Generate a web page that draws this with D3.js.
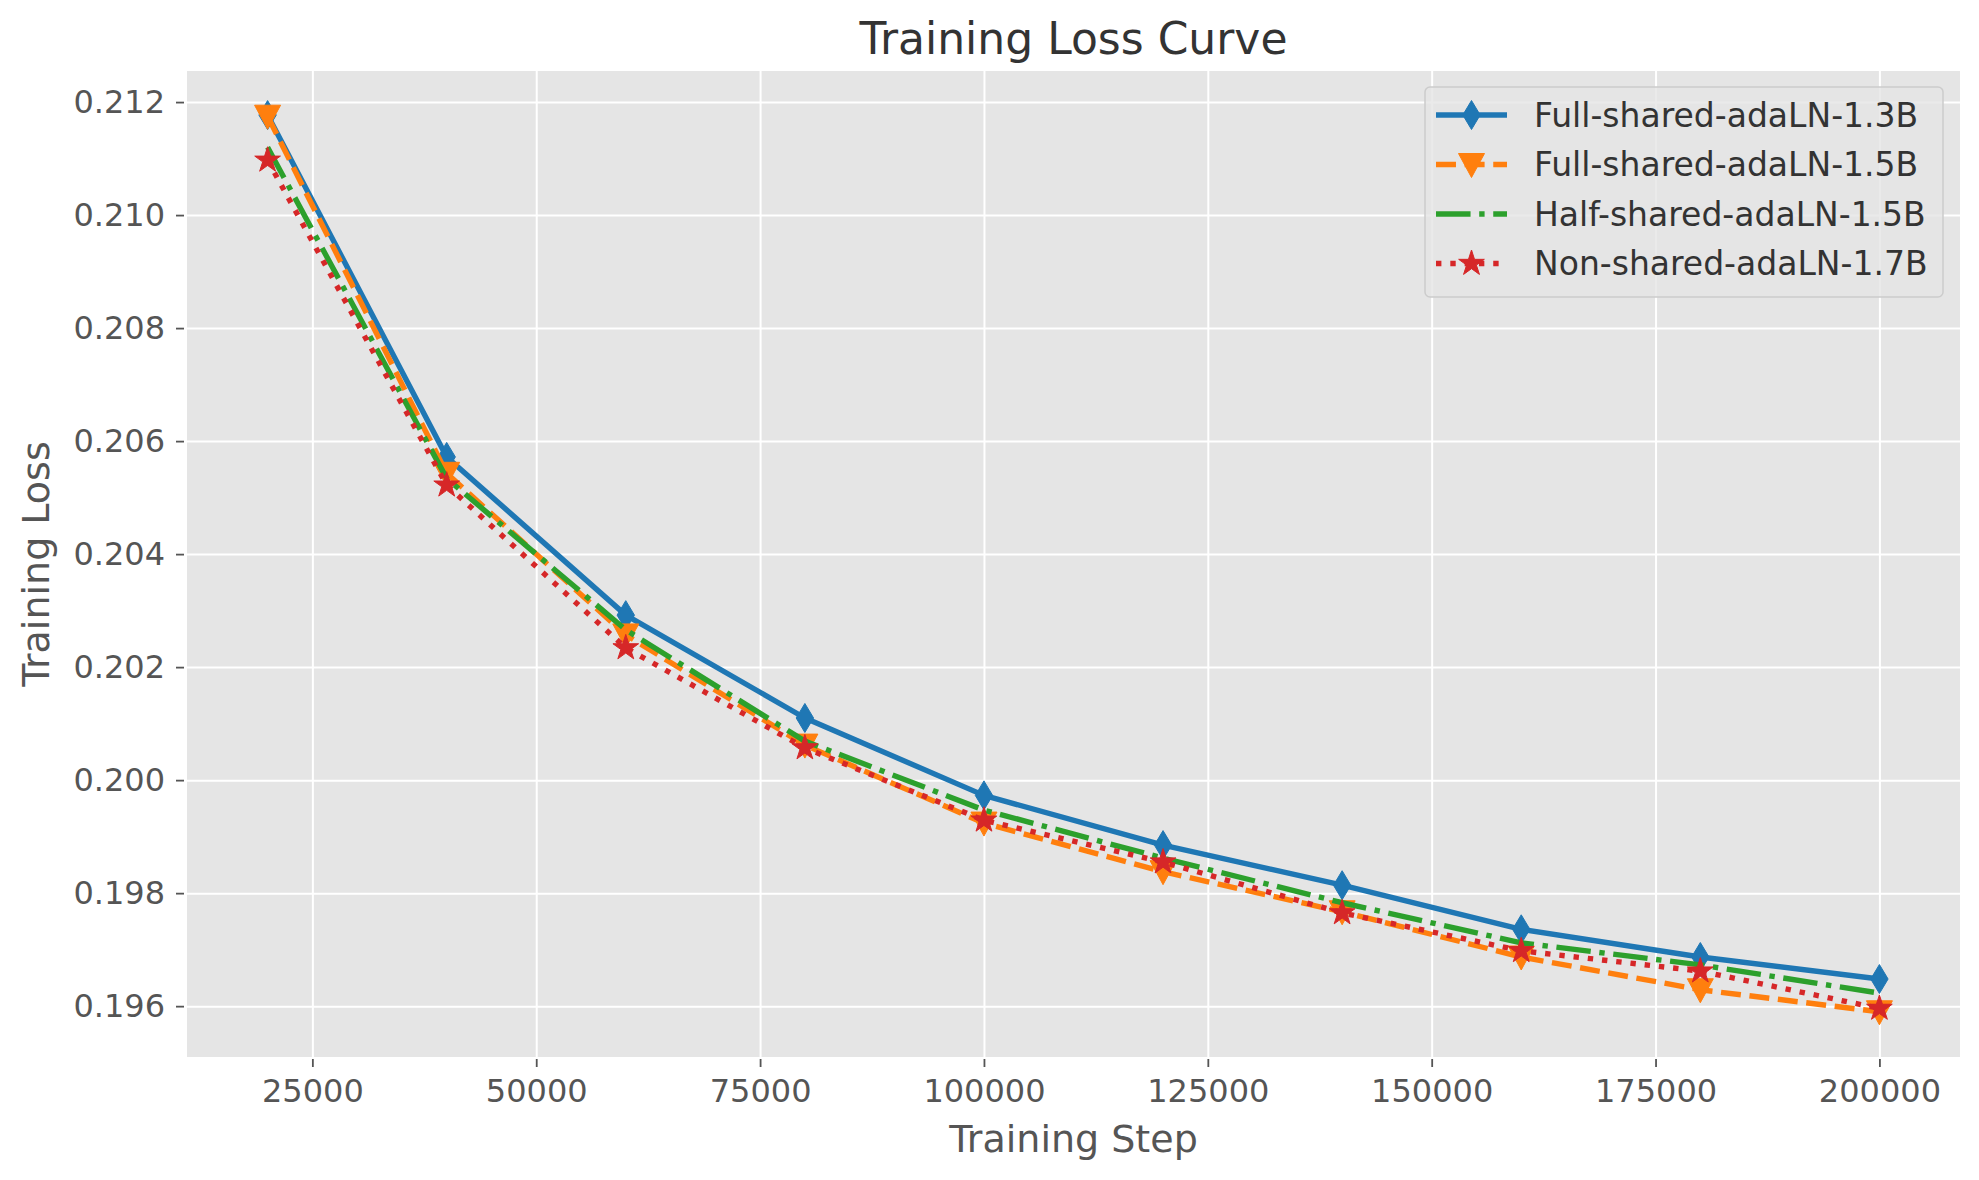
<!DOCTYPE html>
<html>
<head>
<meta charset="utf-8">
<script src="https://cdn.jsdelivr.net/npm/d3@7"></script>
<style>
  body { margin: 0; background: #fff; }
  text { font-family: "DejaVu Sans", sans-serif; }
</style>
</head>
<body>
<div id="chart"></div>
<script>
// Data
const steps = [20000, 40000, 60000, 80000, 100000, 120000, 140000, 160000, 180000, 200000]
const fullShared13 = [0.21177, 0.20572, 0.20292, 0.20110, 0.19973, 0.19885, 0.19814, 0.19736, 0.19687, 0.19648]
const fullShared15 = [0.21175, 0.20543, 0.20257, 0.20062, 0.19924, 0.19838, 0.19767, 0.19687, 0.19629, 0.19590]
const halfShared15 = [0.21120, 0.20534, 0.20266, 0.20069, 0.19947, 0.19862, 0.19783, 0.19712, 0.19673, 0.19623]
const nonShared17 = [0.21097, 0.20522, 0.20234, 0.20057, 0.19929, 0.19855, 0.19765, 0.19698, 0.19662, 0.19596]
const seriesNames = ['Full-shared-adaLN-1.3B', 'Full-shared-adaLN-1.5B', 'Half-shared-adaLN-1.5B', 'Non-shared-adaLN-1.7B']
const xTicks = [25000, 50000, 75000, 100000, 125000, 150000, 175000, 200000]
const yTicks = [0.196, 0.198, 0.200, 0.202, 0.204, 0.206, 0.208, 0.210, 0.212]

function draw(el) {
  // Dimensions
  let dimensions = {
    width: 1979,
    height: 1180,
    left: 187,
    right: 1960,
    top: 71,
    bottom: 1057,
  }
  const lw = 5.4

  // marker paths
  const diamond = 'M0,-14.5L8.7,0L0,14.5L-8.7,0Z'
  const triDown = 'M-13,-11L13,-11L0,13Z'
  const star = d3.range(10).map(i => {
    const r = i % 2 ? 13.5 * 0.381966 : 13.5
    const a = Math.PI / 5 * i
    return (i ? 'L' : 'M') + (r * Math.sin(a)).toFixed(2) + ',' + (-r * Math.cos(a)).toFixed(2)
  }).join('') + 'Z'

  const series = [
    { name: seriesNames[0], values: fullShared13, color: '#1f77b4', dash: null, marker: diamond },
    { name: seriesNames[1], values: fullShared15, color: '#ff7f0e', dash: [3.7 * lw, 1.6 * lw], marker: triDown },
    { name: seriesNames[2], values: halfShared15, color: '#2ca02c', dash: [6.4 * lw, 1.6 * lw, 1 * lw, 1.6 * lw], marker: null },
    { name: seriesNames[3], values: nonShared17, color: '#d62728', dash: [1 * lw, 1.65 * lw], marker: star },
  ]

  // Draw Image
  const svg = d3.select(el)
    .append('svg')
    .attr('width', dimensions.width)
    .attr('height', dimensions.height)

  svg.append('rect')
    .attr('width', dimensions.width)
    .attr('height', dimensions.height)
    .attr('fill', '#fff')

  //Scale
  const xScale = d3.scaleLinear()
    .domain([11000, 209000])
    .range([dimensions.left, dimensions.right])

  const yScale = d3.scaleLinear()
    .domain([0.1951, 0.21255])
    .range([dimensions.bottom, dimensions.top])

  // Plot area
  svg.append('rect')
    .attr('x', dimensions.left)
    .attr('y', dimensions.top)
    .attr('width', dimensions.right - dimensions.left)
    .attr('height', dimensions.bottom - dimensions.top)
    .attr('fill', '#e5e5e5')

  // Grid
  svg.append('g')
    .attr('transform', `translate(0, ${dimensions.bottom})`)
    .call(d3.axisBottom(xScale).tickValues(xTicks).tickSize(-(dimensions.bottom - dimensions.top)).tickFormat(''))
    .call(g => g.select('.domain').remove())
    .call(g => g.selectAll('line').attr('stroke', '#fff').attr('stroke-width', 2))

  svg.append('g')
    .attr('transform', `translate(${dimensions.left}, 0)`)
    .call(d3.axisLeft(yScale).tickValues(yTicks).tickSize(-(dimensions.right - dimensions.left)).tickFormat(''))
    .call(g => g.select('.domain').remove())
    .call(g => g.selectAll('line').attr('stroke', '#fff').attr('stroke-width', 2))

  // Axes
  svg.append('g')
    .attr('transform', `translate(0, ${dimensions.bottom + 2})`)
    .call(d3.axisBottom(xScale).tickValues(xTicks).tickSize(8).tickPadding(12).tickFormat(d3.format('d')))
    .call(g => g.select('.domain').remove())
    .call(g => g.selectAll('line').attr('stroke', '#555').attr('stroke-width', 1.8))
    .call(g => g.selectAll('text').attr('fill', '#555').attr('font-size', 32)
      .attr('font-family', '"DejaVu Sans", sans-serif'))

  svg.append('g')
    .attr('transform', `translate(${dimensions.left - 3}, 0)`)
    .call(d3.axisLeft(yScale).tickValues(yTicks).tickSize(8).tickPadding(11).tickFormat(d3.format('.3f')))
    .call(g => g.select('.domain').remove())
    .call(g => g.selectAll('line').attr('stroke', '#555').attr('stroke-width', 1.8))
    .call(g => g.selectAll('text').attr('fill', '#555').attr('font-size', 32)
      .attr('font-family', '"DejaVu Sans", sans-serif'))

  // Labels
  svg.append('text')
    .attr('x', (dimensions.left + dimensions.right) / 2)
    .attr('y', 54)
    .attr('text-anchor', 'middle')
    .attr('font-size', 44)
    .attr('fill', '#333')
    .text('Training Loss Curve')

  svg.append('text')
    .attr('x', (dimensions.left + dimensions.right) / 2)
    .attr('y', 1152)
    .attr('text-anchor', 'middle')
    .attr('font-size', 38)
    .attr('fill', '#555')
    .text('Training Step')

  svg.append('text')
    .attr('transform', `translate(49, ${(dimensions.top + dimensions.bottom) / 2}) rotate(-90)`)
    .attr('text-anchor', 'middle')
    .attr('font-size', 38)
    .attr('fill', '#555')
    .text('Training Loss')

  // Lines
  const line = d3.line()
    .x((d, i) => xScale(steps[i]))
    .y(d => yScale(d))

  const lines = svg.append('g')
  series.forEach(s => {
    lines.append('path')
      .datum(s.values)
      .attr('d', line)
      .attr('fill', 'none')
      .attr('stroke', s.color)
      .attr('stroke-width', lw)
      .attr('stroke-linejoin', 'round')
      .attr('stroke-dasharray', s.dash ? s.dash.join(',') : null)

    if (s.marker) {
      lines.append('g')
        .selectAll('path')
        .data(s.values)
        .join('path')
        .attr('transform', (d, i) => `translate(${xScale(steps[i])}, ${yScale(d)})`)
        .attr('d', s.marker)
        .attr('fill', s.color)
        .attr('stroke', s.color)
        .attr('stroke-width', 1)
    }
  })

  // Legend
  const legend = svg.append('g')
  legend.append('rect')
    .attr('x', 1425)
    .attr('y', 87)
    .attr('width', 518)
    .attr('height', 210)
    .attr('rx', 5)
    .attr('fill', '#e5e5e5')
    .attr('fill-opacity', 0.8)
    .attr('stroke', '#cccccc')
    .attr('stroke-width', 1.5)

  const rows = legend.selectAll('g.row')
    .data(series)
    .join('g')
    .attr('class', 'row')
    .attr('transform', (d, i) => `translate(0, ${115 + i * 49.5})`)

  rows.append('line')
    .attr('x1', 1436)
    .attr('x2', 1507)
    .attr('stroke', d => d.color)
    .attr('stroke-width', lw)
    .attr('stroke-dasharray', d => d.dash ? d.dash.join(',') : null)

  rows.filter(d => d.marker)
    .append('path')
    .attr('transform', 'translate(1471.5, 0)')
    .attr('d', d => d.marker)
    .attr('fill', d => d.color)
    .attr('stroke', d => d.color)
    .attr('stroke-width', 1)

  rows.append('text')
    .attr('x', 1534)
    .attr('dy', '0.36em')
    .attr('font-size', 33)
    .attr('fill', '#333')
    .text(d => d.name)
}

draw('#chart')
</script>
</body>
</html>
